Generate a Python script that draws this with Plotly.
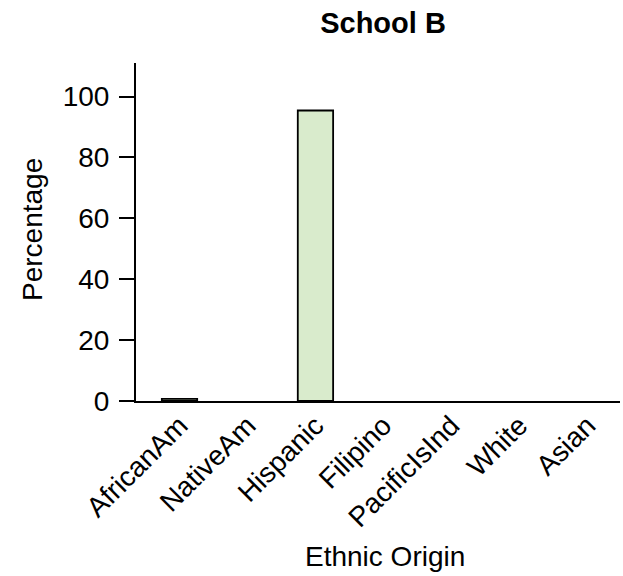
import plotly.graph_objects as go

categories = ["AfricanAm", "NativeAm", "Hispanic", "Filipino", "PacificIsInd", "White", "Asian"]
percentages = [0.7, 0, 95.4, 0, 0, 0, 0]
y_ticks = [0, 20, 40, 60, 80, 100]

FONT = "Liberation Sans, Arial, Helvetica, sans-serif"
FS = 28
W, H = 623, 576
L, R, T, B = 136, 3, 63, 175
PW, PH = W - L - R, H - T - B

fig = go.Figure(go.Bar(
    x=list(range(len(categories))),
    y=percentages,
    width=0.52,
    marker=dict(color="#d9ebcc",
                line=dict(color="black", width=[1.8 if v > 0 else 0 for v in percentages])),
))

fig.update_layout(
    width=W, height=H,
    margin=dict(l=L, r=R, t=T, b=B),
    paper_bgcolor="white", plot_bgcolor="white",
    showlegend=False,
    font=dict(family=FONT, size=FS, color="black"),
    title=dict(text="<b>School B</b>", x=383 / W, xanchor="center", y=1 - 23 / H, yanchor="middle",
               font=dict(family=FONT, size=29, color="black")),
)
fig.add_annotation(text="Ethnic Origin", x=(385 - L) / PW, y=-(556 - (H - B)) / PH,
                   xref="paper", yref="paper", xanchor="center", yanchor="middle", showarrow=False,
                   font=dict(family=FONT, size=FS, color="black"))
fig.add_annotation(text="Percentage", x=-(L - 32) / PW, y=((H - B) - 230) / PH,
                   xref="paper", yref="paper", xanchor="center", yanchor="middle", showarrow=False,
                   textangle=-90, font=dict(family=FONT, size=FS, color="black"))

fig.update_xaxes(
    tickmode="array", tickvals=list(range(len(categories))), ticktext=categories,
    tickangle=-45, range=[-0.64, 6.48], automargin=False,
    showline=True, linecolor="black", linewidth=2,
    ticks="", showgrid=False, zeroline=False,
    tickfont=dict(size=FS), ticklabelstandoff=-5,
)
fig.update_yaxes(
    tickmode="array", tickvals=y_ticks, range=[0, 111], automargin=False,
    showline=True, linecolor="black", linewidth=2,
    ticks="outside", ticklen=15, tickwidth=2, tickcolor="black",
    showgrid=False, zeroline=False,
    tickfont=dict(size=FS), ticklabelstandoff=4,
)

fig.write_html("out.html", config={"displayModeBar": False},
               post_script="document.body.style.margin='0';document.body.style.padding='0';")
